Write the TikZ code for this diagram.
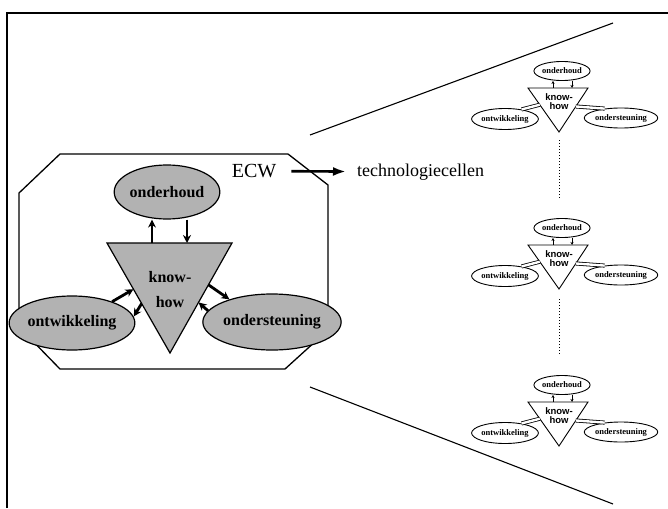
\documentclass[tikz,border=0pt]{standalone}
\usepackage{fontspec}
\setmainfont{Liberation Serif}
\newfontfamily\cellsans{Liberation Sans}
\usetikzlibrary{arrows.meta,calc,shapes.geometric}
\begin{document}
\begin{tikzpicture}[x=1pt,y=-1pt,
  big/.style={draw,ellipse,fill=gray!60,line width=1.2pt,inner sep=0pt,font=\fontsize{16}{18}\selectfont\bfseries},
  small/.style={draw,ellipse,line width=0.9pt,inner sep=0pt,minimum width=56pt,minimum height=19pt,font=\fontsize{8.5}{9}\selectfont\bfseries},
  bigarr/.style={line width=2.8pt,-{Stealth[length=8pt,width=8pt]}},
  smallarr/.style={line width=0.7pt,-{Stealth[length=3pt,width=3pt]}},
  bar/.style={double,double distance=2.4pt,line width=0.8pt}]
\useasboundingbox (0,0) rectangle (668,508);
% frame
\draw[line width=1.6pt] (7,508) -- (7,13) -- (668,13);
% ECW block
\draw[line width=1.3pt] (60,154) -- (288,154) -- (328,185) -- (328,330) -- (285,369) -- (60,369) -- (19,327) -- (19,193) -- cycle;
\coordinate (tl) at (107,243); \coordinate (tr) at (232,243); \coordinate (ap) at (170,353);
\draw[fill=gray!60,line width=1.2pt] (tl) -- (tr) -- (ap) -- cycle;
\node[font=\fontsize{16}{25}\selectfont\bfseries,align=center,inner sep=0pt] (kh) at (170,290) {know-\\how};
\node[big,minimum width=104pt,minimum height=54pt] (ond) at (167,192) {onderhoud};
\node[big,minimum width=104pt,minimum height=54pt] (ontw) at (72,323) {ontwikkeling};
\node[big,minimum width=100pt,minimum height=56pt] (onst) at (272,322) {ondersteuning};
\coordinate (kt1) at ($(tl)!0.36!(tr)$); \coordinate (kt2) at ($(tl)!0.64!(tr)$);
\draw[bigarr] (kt1) -- (kt1 |- ond.south);
\draw[bigarr] (kt2 |- ond.south) -- (kt2);
\coordinate (kl1) at ($(tl)!0.42!(ap)$); \coordinate (kl2) at ($(tl)!0.55!(ap)$);
\draw[bigarr] (ontw.28) -- (kl1); \draw[bigarr] (kl2) -- (ontw.6);
\coordinate (kr1) at ($(tr)!0.38!(ap)$); \coordinate (kr2) at ($(tr)!0.54!(ap)$);
\draw[bigarr] (kr1) -- (onst.152); \draw[bigarr] (onst.170) -- (kr2);
% ECW -> cells
\node[font=\fontsize{20}{22}\selectfont,inner sep=0pt] (ecw) at (254,171) {ECW};
\node[font=\fontsize{18}{20}\selectfont,anchor=west,inner sep=0pt] (tech) at (357,172) {technologiecellen};
\draw[line width=2.6pt,-{Latex[length=13pt,width=9pt]},shorten <=15pt,shorten >=11pt] (ecw) -- (tech);
\draw[line width=1.1pt] (310,135) -- (613,23);
\draw[line width=1.1pt] (310,387) -- (613,504);
% small cells
\foreach \ty [count=\i] in {88,245,402} {
  \coordinate (tl\i) at (528,\ty); \coordinate (tr\i) at (588,\ty); \coordinate (ap\i) at (559,\ty+44);
  \draw[line width=0.9pt] (tl\i) -- (tr\i) -- (ap\i) -- cycle;
  \node[font=\cellsans\fontsize{9.5}{9}\selectfont\bfseries,align=center,inner sep=0pt] (kh\i) at (559,\ty+14) {know-\\how};
  \node[small] (ond\i) at (562,\ty-17) {onderhoud};
  \node[small,minimum width=54pt,minimum height=21pt] (ontw\i) at (505,\ty+31) {ontwikkeling};
  \node[small,minimum width=58pt,minimum height=20pt] (onst\i) at (621,\ty+30) {ondersteuning};
  \coordinate (st1\i) at (553,\ty); \coordinate (st2\i) at (572,\ty);
  \draw[smallarr] (st1\i) -- (st1\i |- ond\i.south);
  \draw[smallarr] (st2\i |- ond\i.south) -- (st2\i);
  \coordinate (sl\i) at ($(tl\i)!0.38!(ap\i)$); \coordinate (sr\i) at ($(tr\i)!0.42!(ap\i)$);
  \draw[bar] (ontw\i.30) -- (sl\i);
  \draw[bar] (sr\i) -- (onst\i.150);
}
\draw[dotted,line width=1pt,shorten <=8pt,shorten >=20pt] (ap1) -- (ap1 |- ond2.north);
\draw[dotted,line width=1pt,shorten <=10pt,shorten >=20pt] (ap2) -- (ap2 |- ond3.north);
\end{tikzpicture}
\end{document}
